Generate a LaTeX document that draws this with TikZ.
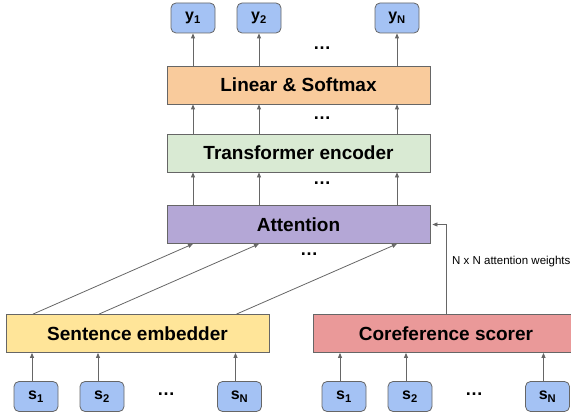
\documentclass[tikz,border=0pt]{standalone}
\usepackage{fontspec}
\setmainfont{Liberation Sans}
\usetikzlibrary{arrows.meta}
\definecolor{edgegray}{HTML}{666666}
\definecolor{tokblue}{HTML}{A4C2F4}
\definecolor{linorange}{HTML}{F9CB9C}
\definecolor{encgreen}{HTML}{D9EAD3}
\definecolor{attpurple}{HTML}{B4A7D6}
\definecolor{embyellow}{HTML}{FFE599}
\definecolor{corefred}{HTML}{EA9999}
\begin{document}
\begin{tikzpicture}[
  x=1pt, y=-1pt,
  box/.style={draw=edgegray, line width=0.8pt, minimum width=263pt, minimum height=38pt, inner sep=0pt, font=\bfseries\fontsize{19}{22}\selectfont},
  tok/.style={draw=edgegray, line width=0.8pt, rounded corners=5pt, fill=tokblue, minimum width=44pt, minimum height=30pt, inner sep=0pt, font=\bfseries\fontsize{16}{18}\selectfont},
  arrow/.style={-{Triangle[length=5pt,width=4pt]}, draw=edgegray, line width=0.8pt},
  dots/.style={anchor=base, inner sep=0pt, font=\bfseries\fontsize{18}{18}\selectfont}
]
\clip (0,0) rectangle (571,412);
% main stack
\node[box, fill=linorange] (lin) at (298.5,85) {Linear \& Softmax};
\node[box, fill=encgreen] (enc) at (298.5,153) {Transformer encoder};
\node[box, fill=attpurple] (att) at (298.5,224.5) {Attention};
\node[box, fill=embyellow] (emb) at (137.5,333.5) {Sentence embedder};
\node[box, fill=corefred, minimum width=266pt] (coref) at (446,333.5) {Coreference scorer};
% outputs
\node[tok] (y1) at (193,18) {y\textsubscript{1}};
\node[tok] (y2) at (259,18) {y\textsubscript{2}};
\node[tok] (yN) at (397,18) {y\textsubscript{N}};
% sentences
\node[tok] (s1) at (36,396.5) {s\textsubscript{1}};
\node[tok] (s2) at (102,396.5) {s\textsubscript{2}};
\node[tok] (sN) at (239.5,396.5) {s\textsubscript{N}};
\node[tok] (c1) at (344,396.5) {s\textsubscript{1}};
\node[tok] (c2) at (410,396.5) {s\textsubscript{2}};
\node[tok] (cN) at (547.5,396.5) {s\textsubscript{N}};
% dots
\node[dots] (dtop) at (322,50) {…};
\node[dots] (dlin) at (322,120) {…};
\node[dots] (denc) at (322,184) {…};
\node[dots] (datt) at (309,255) {…};
\node[dots] (ds) at (166,395) {…};
\node[dots] (dc) at (474,395) {…};
\node[anchor=west, inner sep=0pt, font=\fontsize{11.5}{13}\selectfont] (wlabel) at (452,262) {N x N attention weights};
% arrows
\draw[arrow] (y1 |- lin.north) -- (y1.south);
\draw[arrow] (y2 |- lin.north) -- (y2.south);
\draw[arrow] (yN |- lin.north) -- (yN.south);
\draw[arrow] (y1 |- enc.north) -- (y1 |- lin.south);
\draw[arrow] (y2 |- enc.north) -- (y2 |- lin.south);
\draw[arrow] (yN |- enc.north) -- (yN |- lin.south);
\draw[arrow] (y1 |- att.north) -- (y1 |- enc.south);
\draw[arrow] (y2 |- att.north) -- (y2 |- enc.south);
\draw[arrow] (yN |- att.north) -- (yN |- enc.south);
\draw[arrow] ([xshift=-3pt]s1.north |- emb.north) -- (y1 |- att.south);
\draw[arrow] ([xshift=-3pt]s2.north |- emb.north) -- (y2 |- att.south);
\draw[arrow] ([xshift=-3pt]sN.north |- emb.north) -- (yN |- att.south);
\draw[arrow] ([xshift=-4pt]s1.north) -- ([xshift=-4pt]s1.north |- emb.south);
\draw[arrow] ([xshift=-4pt]s2.north) -- ([xshift=-4pt]s2.north |- emb.south);
\draw[arrow] ([xshift=-4pt]sN.north) -- ([xshift=-4pt]sN.north |- emb.south);
\draw[arrow] ([xshift=-4pt]c1.north) -- ([xshift=-4pt]c1.north |- coref.south);
\draw[arrow] ([xshift=-4pt]c2.north) -- ([xshift=-4pt]c2.north |- coref.south);
\draw[arrow] ([xshift=-4pt]cN.north) -- ([xshift=-4pt]cN.north |- coref.south);
\draw[arrow] (coref.north) |- ([xshift=2pt]att.east);
\end{tikzpicture}
\end{document}
